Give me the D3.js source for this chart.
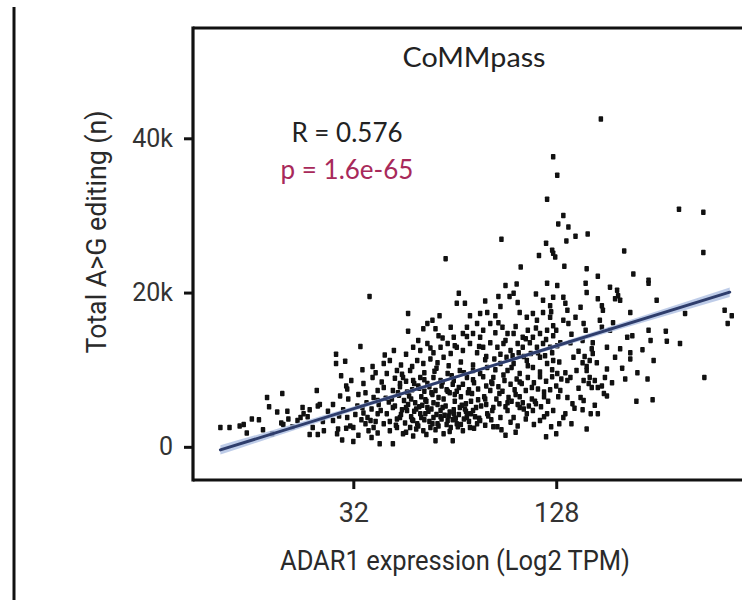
<!DOCTYPE html>
<html>
<head>
<meta charset="utf-8">
<script src="https://cdn.jsdelivr.net/npm/d3@7"></script>
<style>
  html, body { margin: 0; padding: 0; background: #fff; }
  svg { display: block; }
</style>
</head>
<body>
<svg id="chart" width="742" height="600"></svg>
<script>
// ---- data (x = log2 ADAR1 TPM, y = total A>G editing sites) ----
const panelTitle = "CoMMpass";
const statR = "R = 0.576";
const statP = "p = 1.6e-65";
const xTitle = "ADAR1 expression (Log2 TPM)";
const yTitle = "Total A>G editing (n)";
const xTickValues = [5, 7];
const xTickLabels = ["32", "128"];
const yTickValues = [0, 20000, 40000];
const yTickLabels = ["0", "20k", "40k"];

// samples
const samples = [
[5.16,19500],[5.07,13000],[4.83,12000],[4.83,10800],[4.92,11100],[5.09,10000],[5.19,10400],[5.19,9000],
[4.93,7900],[4.94,7500],[5.10,8200],[5.24,7300],[4.64,7300],[4.30,6900],[4.15,6400],[4.17,5200],
[4.65,5300],[4.67,5500],[4.50,5100],[4.57,4800],[4.51,4300],[4.87,6600],[4.07,3500],[4.36,3600],
[4.29,3100],[4.31,2900],[4.45,3400],[4.48,3800],[3.92,2900],[3.69,2500],[3.78,2500],[4.11,2200],
[4.57,1600],[4.65,1600],[4.71,2100],[4.84,1700],[4.80,3400],[4.86,4000],[4.94,3800],[4.97,2700],
[4.93,2400],[5.00,2500],[5.00,700],[5.10,4400],[5.14,3800],[5.12,3000],[5.17,3400],[5.20,2500],
[5.15,2100],[5.24,1800],[5.24,4300],[5.04,5300],[5.09,5100],[5.20,6400],[5.24,6000],[3.88,2700],
[6.04,19900],[6.02,18600],[6.10,18600],[6.50,20900],[6.61,21100],[6.54,19500],[6.58,19900],[6.43,19500],
[6.91,21200],[7.01,20900],[6.97,19400],[6.87,19000],[6.94,18300],[5.54,17300],[5.54,15000],[5.85,17000],
[5.73,16000],[5.78,16400],[5.69,15300],[5.81,15300],[5.84,14400],[5.96,15500],[5.99,14200],[6.15,17000],
[6.25,17300],[6.32,17400],[6.22,16000],[6.12,15500],[6.08,14700],[6.18,14700],[6.28,15100],[6.25,14200],
[6.35,16000],[6.40,17000],[6.43,16100],[6.47,15500],[6.52,14700],[6.58,14700],[6.64,17400],[6.71,16800],
[6.77,17300],[6.81,16400],[6.87,17400],[6.94,16800],[6.97,15700],[6.72,15100],[6.67,14200],[6.77,14200],
[6.84,14700],[6.91,15100],[6.97,14400],[5.59,12900],[5.66,12500],[5.73,13400],[5.79,12200],[5.86,12900],
[5.93,13400],[5.63,11200],[5.69,10800],[5.76,11400],[5.83,10900],[5.89,11600],[5.96,12100],[6.02,12900],
[6.08,12500],[6.15,13400],[6.22,12200],[6.28,12900],[6.35,13500],[6.42,12900],[6.48,13400],[6.55,12500],
[6.62,13400],[6.67,12900],[6.74,13500],[6.81,12900],[6.87,13400],[6.94,12900],[7.01,13100],[5.30,10800],
[5.36,11200],[5.33,9500],[5.43,9900],[5.49,9000],[5.56,9900],[5.46,8200],[5.39,7300],[5.30,7700],
[5.59,8600],[5.66,9000],[5.73,8200],[5.79,9000],[5.86,8600],[5.93,9500],[5.99,8600],[6.05,9900],
[6.12,9000],[6.18,9900],[6.25,9500],[6.32,10300],[6.38,9000],[6.45,10800],[6.52,9900],[6.58,10800],
[6.64,9500],[6.71,11200],[6.77,10300],[6.84,11600],[6.91,10800],[6.97,11200],[7.01,9500],[5.27,4700],
[5.33,4300],[5.39,5100],[5.46,3800],[5.53,4700],[5.59,3400],[5.66,4300],[5.73,5100],[5.79,3800],
[5.86,4700],[5.93,3400],[5.99,4300],[6.05,5100],[6.12,3800],[6.18,4700],[6.25,3400],[6.32,4300],
[6.38,5100],[6.45,3800],[6.52,4700],[6.58,3800],[6.64,5100],[6.71,4300],[6.77,4700],[6.84,3400],
[6.91,4300],[6.97,4700],[5.30,3000],[5.36,2100],[5.43,2500],[5.49,1700],[5.56,2500],[5.63,3000],
[5.69,2100],[5.76,2500],[5.83,3000],[5.89,1700],[5.96,2500],[6.02,3000],[6.08,2100],[6.15,2500],
[6.22,3000],[5.39,400],[5.98,800],[5.59,1400],[4.89,900],[5.26,400],[5.81,800],
[7.29,21200],[7.30,20000],[7.53,20700],[7.60,20300],[7.61,19600],[7.63,19000],[7.58,19200],[7.91,21200],
[7.99,19000],[7.07,19400],[7.09,18600],[7.11,17700],[7.07,16400],[7.12,16000],[7.19,16800],[7.24,18100],
[7.41,19200],[7.45,18300],[7.46,17700],[7.73,17400],[7.27,16000],[7.29,15100],[7.43,16400],[7.45,15500],
[7.53,15100],[7.56,16100],[8.27,17300],[8.66,17700],[8.73,17000],[8.69,16000],[7.75,14400],[7.91,15100],
[7.93,13800],[8.08,15000],[8.09,13700],[8.22,13400],[7.04,13500],[7.14,13500],[7.26,13800],[7.36,13500],
[7.35,12700],[7.50,12900],[7.63,12700],[7.73,12200],[7.73,11400],[7.17,11600],[7.26,10900],[7.30,10400],
[7.36,12100],[7.33,11200],[7.96,11200],[7.09,9600],[7.11,8600],[7.14,9000],[7.30,9900],[7.33,9000],
[7.27,8600],[7.38,8600],[7.45,7900],[7.35,7700],[7.41,7700],[7.50,10100],[7.48,9000],[7.68,8800],
[7.90,8800],[8.46,9000],[7.04,7300],[7.11,6400],[7.16,5600],[7.24,6400],[7.27,6000],[7.79,5900],
[7.95,6100],[7.34,4300],[7.41,4300],[7.07,3800],[7.09,4300],
[6.97,37600],[7.01,35200],[6.91,32100],[7.02,28900],[6.46,26900],[5.91,24400],[6.90,26400],[6.96,25500],
[6.97,25100],[6.83,24800],[6.99,24600],[6.65,23300],[7.44,42500],[8.21,30800],[8.45,30400],[8.45,25200],
[7.07,30000],[7.12,28500],[7.10,26700],[7.19,27300],[7.31,27600],[7.67,25400],[7.08,23400],[7.30,23100],
[7.41,22100],[7.76,22400],[7.91,21600],
[5.38,6200],[5.44,7000],[5.50,6000],[5.55,6600],[5.61,5700],[5.67,6500],[5.72,5900],[5.78,6800],
[5.83,5500],[5.89,6200],[5.95,7000],[6.00,5900],[6.06,6500],[6.11,5600],[6.17,6900],[6.23,6100],
[5.41,5300],[5.48,4800],[5.54,5500],[5.60,4600],[5.65,5200],[5.71,4300],[5.77,4900],[5.82,4200],
[5.88,5100],[5.94,4000],[5.99,4800],[6.04,4200],[6.10,4900],[6.16,4300],[6.21,5100],
[5.43,3600],[5.51,3100],[5.57,3900],[5.64,2700],[5.70,3500],[5.75,3300],[5.81,2200],[5.87,3600],
[5.92,2900],[5.98,3500],[6.03,2600],[6.09,3600],[6.14,3300],
[5.46,7800],[5.52,8500],[5.58,7400],[5.64,7900],[5.70,7200],[5.75,7800],[5.81,7300],[5.87,7900],
[5.92,7400],[5.98,8100],[6.02,7200],[6.08,8100],[6.14,7400],[6.19,8300],
[6.29,6500],[6.35,7300],[6.41,6200],[6.47,7200],[6.53,6400],[6.59,7400],[6.64,6500],[6.70,7300],
[6.76,6200],[6.82,7500],[6.88,6500],[6.94,7400],
[6.31,5500],[6.37,4700],[6.44,5600],[6.50,5200],[6.56,5900],[6.62,5500],[6.67,5700],[6.73,5300],
[6.79,5900],[6.85,5200],
[6.31,7900],[6.37,8200],[6.43,7800],[6.49,8600],[6.55,8100],[6.61,8800],[6.66,8200],[6.72,9000],
[6.78,8300],[6.84,9100],[6.90,8500],[6.96,9100],
[6.31,11700],[6.39,11400],[6.45,12000],[6.51,11600],[6.57,11800],[6.63,12200],[6.68,11700],[6.75,12100],
[6.82,12200],[6.89,11800],[6.96,12200],
[5.32,6300],[5.35,5800],[5.41,8900],[5.45,6700],[5.48,9400],[5.52,5100],[5.53,7100],[5.57,6200],
[5.60,8200],[5.62,4900],[5.65,7600],[5.68,5400],[5.70,8700],[5.71,6100],[5.74,4600],[5.77,7000],
[5.79,5700],[5.80,9800],[5.84,6400],[5.86,3900],[5.88,8400],[5.91,5300],[5.93,7200],[5.95,4500],
[5.97,9200],[6.00,6800],[6.01,3700],[6.04,7700],[6.07,5400],[6.09,9600],[6.11,4600],[6.13,7000],
[6.16,5900],[6.18,8700],[6.20,3900],[6.23,7500],[6.26,5300],[6.28,9100],[6.30,6200],[6.33,4000],
[5.36,3300],[5.42,2800],[5.47,4200],[5.52,1900],[5.58,3500],[5.62,2300],[5.67,3800],[5.72,1600],
[5.78,3000],[5.84,2700],[5.90,4100],[5.95,2000],[6.00,3600],[6.06,2900],[6.12,4300],[6.19,2400],
[6.24,3700],[6.30,2800],[6.36,3500],[6.42,2600],
[5.25,5500],[5.28,8400],[5.22,9600],[5.31,11900],[5.40,12500],[5.47,10600],[5.52,12000],[5.58,10400],
[5.64,13800],[5.70,9600],[5.76,12800],[5.82,10200],[5.88,14100],[5.94,10500],[6.00,13100],[6.06,11000],
[6.12,14300],[6.18,10600],[6.24,13000],[6.30,11300],
[6.36,8400],[6.40,10000],[6.44,6900],[6.48,9300],[6.52,5700],[6.56,10300],[6.60,6800],[6.64,8400],
[6.68,4900],[6.72,10500],[6.76,7700],[6.80,5600],[6.84,9700],[6.88,7100],[6.92,5900],[6.96,10000],
[7.00,7900],[7.03,11000],[7.05,8800],[7.02,6500],
[6.38,2600],[6.46,2200],[6.55,3200],[6.62,2700],[6.70,3600],[6.78,2900],[6.88,3900],[6.95,2600],
[7.03,3000],[6.50,1500],[6.60,1900],[6.90,1300],[7.00,1700],
[6.40,14800],[6.50,13800],[6.60,15600],[6.70,14000],[6.80,15400],[6.90,13900],[7.00,15100],[6.45,18200],
[6.62,18700],[6.80,19800],[6.95,17500],[6.30,18900],
[7.15,14600],[7.22,12400],[7.28,11700],[7.20,9900],[7.32,8200],[7.22,7600],[7.40,10900],[7.47,6900],
[7.55,8300],[7.58,11600],[7.65,10200],[7.70,14200],[7.80,9600],[7.85,12600],[7.18,5000],[7.26,4800],
[7.38,5400],[7.50,6600],[7.15,3000],[7.30,2300],
[4.75,4600],[4.80,5500],[4.90,4800],[4.95,6200],[5.02,4200],[5.05,6800],[5.08,3500],[5.13,5700],
[5.18,4900],[5.22,3300],[4.70,3300],[4.60,2500],[4.55,3900],[4.40,2600],[4.35,4600],[4.25,4500],
[4.20,1700],[4.00,3600],[3.95,1800],[4.85,2300],[5.05,1500],[5.18,1200],[4.98,8600],[5.12,7000],
[4.88,9200]
];

const fitX = [3.69, 8.71];
const fitY = [-400, 20050];
const bandX = [3.69, 4.5, 5.5, 6.5, 7.5, 8.71];
const bandHalf = [600, 380, 220, 220, 360, 620];

// ---- drawing ----
(function () {
const svg = d3.select("#chart");
const W = 742, H = 600;
const pLeft = 193, pTop = 28, pBottom = 480, pRight = 749;

const x = d3.scaleLinear().domain([3.42, 8.9]).range([pLeft, pRight]);
const y = d3.scaleLinear().domain([-4300, 54300]).range([pBottom, pTop]);

svg.append("rect").attr("width", W).attr("height", H).attr("fill", "#fff");

// outer vertical rule at far left
svg.append("line").attr("x1", 14).attr("x2", 14).attr("y1", 7).attr("y2", H)
  .attr("stroke", "#111").attr("stroke-width", 3);

// points
svg.append("g").selectAll("rect").data(samples).join("rect")
  .attr("x", d => x(d[0]) - 2.25)
  .attr("y", d => y(d[1]) - 2.75)
  .attr("width", 4.5).attr("height", 5.5)
  .attr("rx", 0.8)
  .attr("fill", "#111");

// confidence band
const fitLine = d3.scaleLinear().domain(fitX).range(fitY);
const band = d3.area()
  .x(d => x(d))
  .y0((d, i) => y(fitLine(d) - bandHalf[i]))
  .y1((d, i) => y(fitLine(d) + bandHalf[i]))
  .curve(d3.curveMonotoneX);
svg.append("path").datum(bandX).attr("d", band)
  .attr("fill", "#aebfe2").attr("opacity", 0.8);

// regression line
svg.append("line")
  .attr("x1", x(fitX[0])).attr("y1", y(fitY[0]))
  .attr("x2", x(fitX[1])).attr("y2", y(fitY[1]))
  .attr("stroke", "#2e3d6c").attr("stroke-width", 3).attr("stroke-linecap", "round");

// panel border (left, top, bottom)
const border = svg.append("g").attr("stroke", "#111").attr("stroke-width", 3.2).attr("fill", "none");
border.append("line").attr("x1", pLeft).attr("x2", pLeft).attr("y1", pTop - 1.6).attr("y2", pBottom + 1.6);
border.append("line").attr("x1", pLeft).attr("x2", W).attr("y1", pTop).attr("y2", pTop);
border.append("line").attr("x1", pLeft).attr("x2", W).attr("y1", pBottom).attr("y2", pBottom);

// x axis
const xAxis = d3.axisBottom(x).tickValues(xTickValues)
  .tickFormat((d, i) => xTickLabels[i]).tickSize(9).tickPadding(14);
const gx = svg.append("g").attr("transform", `translate(0,${pBottom})`).call(xAxis);
gx.select(".domain").remove();
gx.selectAll(".tick line").attr("stroke", "#111").attr("stroke-width", 3);
gx.selectAll(".tick text").attr("fill", "#333")
  .style("font-family", "Roboto, 'DejaVu Sans', sans-serif").style("font-size", "27px");

// y axis
const yAxis = d3.axisLeft(y).tickValues(yTickValues)
  .tickFormat((d, i) => yTickLabels[i]).tickSize(9).tickPadding(11);
const gy = svg.append("g").attr("transform", `translate(${pLeft},0)`).call(yAxis);
gy.select(".domain").remove();
gy.selectAll(".tick line").attr("stroke", "#111").attr("stroke-width", 3);
gy.selectAll(".tick text").attr("fill", "#333")
  .style("font-family", "Roboto, 'DejaVu Sans', sans-serif").style("font-size", "25px");

// axis titles
svg.append("text").attr("x", 455).attr("y", 570).attr("text-anchor", "middle")
  .attr("textLength", 350).attr("lengthAdjust", "spacingAndGlyphs")
  .attr("fill", "#2a2a2a")
  .style("font-family", "Roboto, 'DejaVu Sans', sans-serif").style("font-size", "28px")
  .text(xTitle);

svg.append("text").attr("transform", "translate(106,232) rotate(-90)").attr("text-anchor", "middle")
  .attr("textLength", 243).attr("lengthAdjust", "spacingAndGlyphs")
  .attr("fill", "#2a2a2a")
  .style("font-family", "Roboto, 'DejaVu Sans', sans-serif").style("font-size", "28px")
  .text(yTitle);

// panel title and stats
svg.append("text").attr("x", 474).attr("y", 67).attr("text-anchor", "middle")
  .attr("textLength", 143).attr("lengthAdjust", "spacingAndGlyphs")
  .attr("fill", "#222")
  .style("font-family", "Lato, 'Open Sans', sans-serif").style("font-size", "26px")
  .text(panelTitle);

svg.append("text").attr("x", 347).attr("y", 142).attr("text-anchor", "middle")
  .attr("fill", "#222")
  .style("font-family", "Lato, 'Open Sans', sans-serif").style("font-size", "26px")
  .text(statR);

svg.append("text").attr("x", 347).attr("y", 179).attr("text-anchor", "middle")
  .attr("fill", "#a8295a")
  .style("font-family", "Lato, 'Open Sans', sans-serif").style("font-size", "26px")
  .text(statP);
})();
</script>
</body>
</html>
